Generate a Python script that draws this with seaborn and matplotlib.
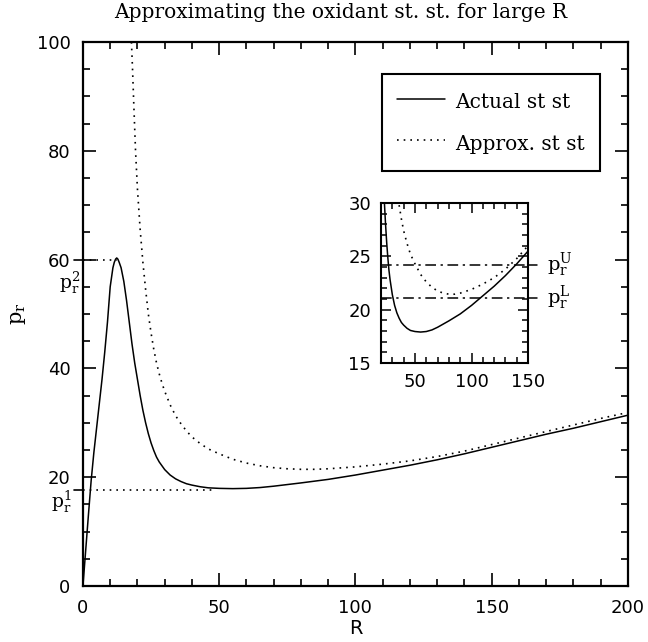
import matplotlib
matplotlib.use("Agg")
import matplotlib.pyplot as plt
import matplotlib.transforms as mtransforms
from matplotlib.ticker import MultipleLocator
import seaborn as sns
import pandas as pd

# actual steady state
r_actual = [0, 1, 2, 3, 4, 5, 6, 7, 8, 9, 10, 11, 11.5, 12, 12.4, 12.8, 13.3, 14, 15,
            16, 17, 18, 19, 20, 21, 22, 23, 24, 25, 26, 27, 28, 30, 32, 34, 36, 38, 40,
            43, 46, 50, 55, 60, 65, 70, 80, 90, 100, 110, 120, 130, 140, 150, 160,
            170, 180, 190, 200]
p_actual = [0, 6.5, 13, 19.3, 24.5, 29, 33.5, 38, 43, 48.5, 55, 58.5, 59.5, 60.1, 60.3,
            60.1, 59.5, 58.5, 56, 52.5, 48.5, 44.5, 41, 38, 35, 32.3, 30, 28, 26.3,
            24.9, 23.7, 22.8, 21.4, 20.4, 19.7, 19.2, 18.8, 18.55, 18.25, 18.05, 17.95,
            17.9, 17.95, 18.1, 18.35, 18.95, 19.6, 20.4, 21.3, 22.2, 23.2, 24.3, 25.5,
            26.7, 27.9, 29.0, 30.2, 31.4]

# approximate steady state
r_approx = [17.8, 18.2, 18.7, 19.3, 20, 21, 22, 23, 24, 25, 26, 27, 28, 29, 30, 32, 34,
            36, 38, 40, 43, 46, 50, 55, 60, 65, 70, 75, 80, 85, 90, 100, 110, 120, 130,
            140, 150, 160, 170, 180, 190, 200]
p_approx = [100, 95, 88, 80, 73, 65.5, 59.5, 54.5, 50, 46.5, 43.5, 41, 39, 37.3, 35.8,
            33.3, 31.3, 29.8, 28.5, 27.4, 26.2, 25.2, 24.3, 23.3, 22.6, 22.1, 21.75,
            21.55, 21.45, 21.45, 21.55, 21.9, 22.4, 23.0, 23.8, 24.8, 26.0, 27.2, 28.4,
            29.6, 30.8, 31.9]

# reference levels
p_levels = [17.6, 60]
p_level_ends = [48, 12.4]
p_level_labels = [r"$\mathrm{p_r^1}$", r"$\mathrm{p_r^2}$"]
inset_levels = [24.2, 21.1]
inset_labels = [r"$\mathrm{p_r^U}$", r"$\mathrm{p_r^L}$"]

df_actual = pd.DataFrame({"R": r_actual, "p": p_actual})
df_approx = pd.DataFrame({"R": r_approx, "p": p_approx})

sns.set_style("ticks")
plt.rcParams["font.family"] = ["DejaVu Sans"]
plt.rcParams["mathtext.fontset"] = "dejavuserif"
for k in ["text.color", "axes.labelcolor", "xtick.color", "ytick.color",
          "axes.edgecolor"]:
    plt.rcParams[k] = "black"

fig = plt.figure(figsize=(6.48, 6.42), dpi=100)
ax = fig.add_axes([0.128, 0.0872, 0.841, 0.8474])

sns.lineplot(data=df_actual, x="R", y="p", ax=ax, color="black", lw=1.1,
             label="Actual st st", sort=False)
sns.lineplot(data=df_approx, x="R", y="p", ax=ax, color="black", lw=1.2,
             linestyle=(0, (1, 3)), label="Approx. st st", sort=False)

for lev, end in zip(p_levels, p_level_ends):
    ax.plot([0, end], [lev, lev], color="black", lw=1.2, linestyle=(0, (1, 3)))

ax.set_xlim(0, 200)
ax.set_ylim(0, 100)
ax.xaxis.set_major_locator(MultipleLocator(50))
ax.xaxis.set_minor_locator(MultipleLocator(10))
ax.yaxis.set_major_locator(MultipleLocator(20))
ax.yaxis.set_minor_locator(MultipleLocator(5))
ax.tick_params(which="both", direction="in", top=True, right=True, width=1.2,
               labelsize=13)
ax.tick_params(which="major", length=9.5, pad=9)
ax.tick_params(which="minor", length=5)
for s in ax.spines.values():
    s.set_linewidth(1.6)

ax.set_xlabel("R", fontsize=14, labelpad=2)
ax.set_ylabel(r"$\mathrm{p_r}$", fontsize=15, labelpad=6)
fig.text(0.525, 0.981, "Approximating the oxidant st. st. for large R",
         ha="center", va="center", fontsize=14.5, family="DejaVu Serif")

# small outward ticks + labels for the reference levels
tr = mtransforms.blended_transform_factory(ax.transAxes, ax.transData)
for lev, lab, dy, dx in zip(p_levels, p_level_labels, [-2.2, -4.3], [-0.02, -0.005]):
    ax.plot([-0.017, 0], [lev, lev], color="black", lw=1.2, transform=tr,
            clip_on=False)
    ax.text(dx, lev + dy, lab, transform=tr, ha="right", va="center",
            fontsize=13.5)

leg = ax.legend(loc="upper left", bbox_to_anchor=(0.548, 0.941), frameon=True,
                fancybox=False, edgecolor="black", framealpha=1,
                borderaxespad=0, handlelength=2.4, handletextpad=0.5,
                handleheight=1.5, borderpad=0.75, labelspacing=0.85,
                prop={"family": "DejaVu Serif", "size": 14.5})
leg.get_frame().set_linewidth(1.5)

# inset
axi = fig.add_axes([0.588, 0.4346, 0.227, 0.2492])
sns.lineplot(data=df_actual, x="R", y="p", ax=axi, color="black", lw=1.1,
             sort=False, legend=False)
sns.lineplot(data=df_approx, x="R", y="p", ax=axi, color="black", lw=1.2,
             linestyle=(0, (1, 3)), sort=False, legend=False)
for lev in inset_levels:
    axi.axhline(lev, color="black", lw=1.1, linestyle=(0, (7, 3, 1.5, 3)))
axi.set_xlim(20, 150)
axi.set_ylim(15, 30)
axi.set_xlabel("")
axi.set_ylabel("")
axi.xaxis.set_major_locator(MultipleLocator(50))
axi.xaxis.set_minor_locator(MultipleLocator(10))
axi.yaxis.set_major_locator(MultipleLocator(5))
axi.yaxis.set_minor_locator(MultipleLocator(1))
axi.tick_params(which="both", direction="in", top=True, right=True, width=1.1,
                labelsize=13)
axi.tick_params(which="major", length=7, pad=7)
axi.tick_params(which="minor", length=4)
for s in axi.spines.values():
    s.set_linewidth(1.5)

tri = mtransforms.blended_transform_factory(axi.transAxes, axi.transData)
for lev, lab in zip(inset_levels, inset_labels):
    axi.plot([1.0, 1.06], [lev, lev], color="black", lw=1.1, transform=tri,
             clip_on=False)
    axi.text(1.13, lev, lab, transform=tri, ha="left", va="center", fontsize=14)

fig.savefig("out.png", dpi=100)
